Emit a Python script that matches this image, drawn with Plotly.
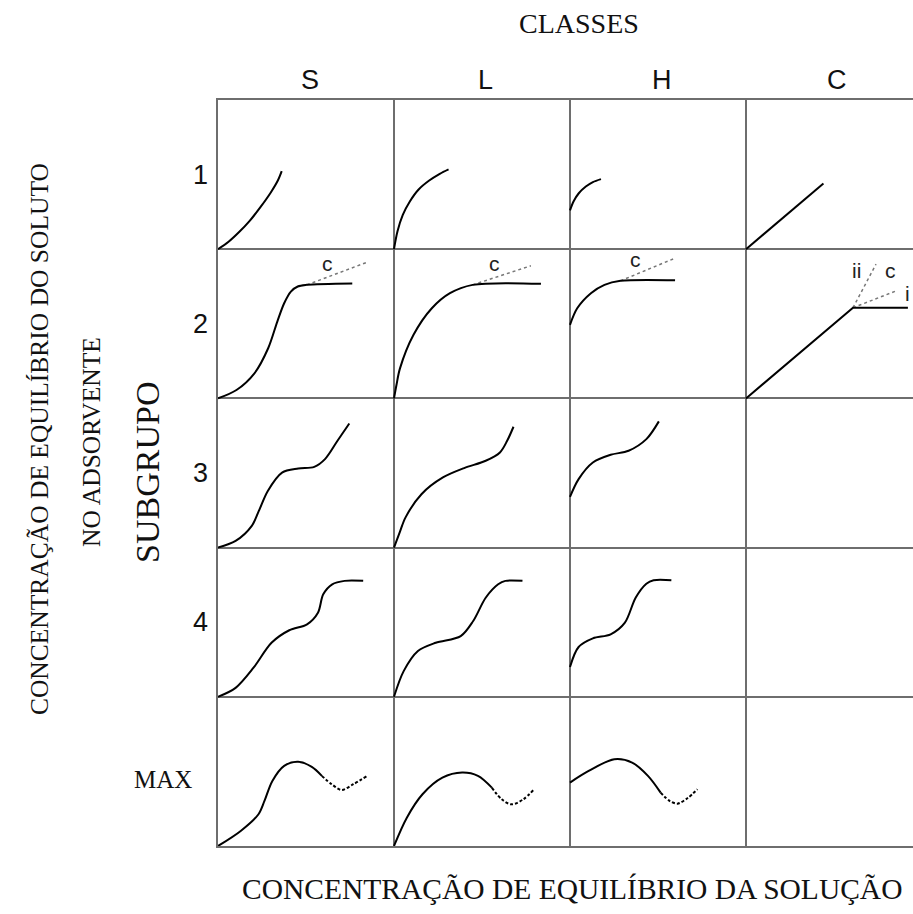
import plotly.graph_objects as go

# Giles classification of adsorption isotherms: classes (columns) x subgroups (rows)
CLASSES = ["S", "L", "H", "C"]
SUBGROUPS = ["1", "2", "3", "4", "MAX"]

# Curve points in cell units: u = solution concentration, v = adsorbed concentration
S1 = [(0, 0), (0.06, 0.05), (0.12, 0.115), (0.18, 0.19), (0.24, 0.28), (0.30, 0.38), (0.34, 0.46), (0.362, 0.523)]
L1 = [(0, 0), (0.02, 0.12), (0.05, 0.23), (0.09, 0.32), (0.14, 0.40), (0.20, 0.46), (0.26, 0.505), (0.31, 0.535)]
H1 = [(0, 0.26), (0.02, 0.32), (0.05, 0.375), (0.09, 0.42), (0.13, 0.45), (0.176, 0.47)]
C1 = [(0, 0), (0.44, 0.44)]

S2 = [(0, 0), (0.105, 0.056), (0.207, 0.168), (0.285, 0.336), (0.337, 0.515), (0.376, 0.638),
      (0.414, 0.716), (0.453, 0.75), (0.505, 0.761), (0.763, 0.77)]
S2_c = [(0.505, 0.761), (0.848, 0.913)]
L2 = [(0, 0), (0.014, 0.09), (0.034, 0.201), (0.111, 0.426), (0.215, 0.604), (0.318, 0.705),
      (0.447, 0.761), (0.835, 0.768)]
L2_c = [(0.447, 0.761), (0.778, 0.889)]
H2 = [(0, 0.493), (0.041, 0.604), (0.119, 0.705), (0.196, 0.761), (0.287, 0.788), (0.597, 0.792)]
H2_c = [(0.287, 0.788), (0.597, 0.94)]
C2 = [(0, 0), (0.608, 0.608), (0.92, 0.608)]
C2_i = [(0.608, 0.608), (0.852, 0.72)]
C2_ii = [(0.608, 0.608), (0.739, 0.9)]

S3 = [(0, 0), (0.1, 0.045), (0.192, 0.146), (0.232, 0.246), (0.283, 0.38), (0.364, 0.503),
      (0.456, 0.53), (0.547, 0.541), (0.608, 0.593), (0.679, 0.716), (0.746, 0.832)]
L3 = [(0, 0), (0.034, 0.107), (0.065, 0.201), (0.156, 0.358), (0.278, 0.47), (0.399, 0.533),
      (0.521, 0.582), (0.602, 0.638), (0.643, 0.716), (0.679, 0.81)]
H3 = [(0, 0.34), (0.049, 0.459), (0.13, 0.57), (0.231, 0.622), (0.333, 0.649), (0.434, 0.727), (0.505, 0.846)]

S4 = [(0, 0), (0.1, 0.06), (0.202, 0.195), (0.304, 0.362), (0.405, 0.446), (0.506, 0.486),
      (0.568, 0.564), (0.598, 0.687), (0.649, 0.754), (0.719, 0.777), (0.825, 0.777)]
L4 = [(0, 0), (0.055, 0.172), (0.136, 0.307), (0.237, 0.362), (0.379, 0.407), (0.45, 0.508),
      (0.521, 0.664), (0.592, 0.754), (0.633, 0.777), (0.73, 0.777)]
H4 = [(0, 0.2), (0.049, 0.334), (0.13, 0.392), (0.231, 0.419), (0.312, 0.497), (0.373, 0.664),
      (0.434, 0.758), (0.475, 0.781), (0.576, 0.781)]

S5 = [(0, 0), (0.129, 0.101), (0.23, 0.213), (0.264, 0.302), (0.309, 0.436), (0.376, 0.537),
      (0.455, 0.564), (0.533, 0.53), (0.59, 0.47)]
S5_tail = [(0.59, 0.47), (0.646, 0.414), (0.702, 0.376), (0.769, 0.414), (0.848, 0.47)]
L5 = [(0, 0), (0.073, 0.19), (0.162, 0.347), (0.275, 0.458), (0.387, 0.492), (0.477, 0.47), (0.556, 0.391)]
L5_tail = [(0.556, 0.391), (0.612, 0.313), (0.668, 0.279), (0.735, 0.313), (0.796, 0.38)]
H5 = [(0, 0.425), (0.106, 0.503), (0.252, 0.581), (0.353, 0.559), (0.443, 0.47), (0.515, 0.358)]
H5_tail = [(0.515, 0.358), (0.566, 0.302), (0.611, 0.284), (0.667, 0.32), (0.724, 0.38)]

# text labels next to the dotted branches: (class, subgroup, text, u, v)
BRANCH_LABELS = [("S", "2", "c", 0.621, 0.906), ("L", "2", "c", 0.569, 0.906),
                 ("H", "2", "c", 0.372, 0.928), ("C", "2", "ii", 0.63, 0.86),
                 ("C", "2", "c", 0.82, 0.86), ("C", "2", "i", 0.915, 0.70)]

SOLID = dict(color="black", width=2)
DOTTED = dict(color="#777777", width=1.5, dash="dot")
DASHED = dict(color="black", width=2, dash="3px,2px")

CURVES = [
    ("S", "1", S1, SOLID), ("L", "1", L1, SOLID), ("H", "1", H1, SOLID), ("C", "1", C1, SOLID),
    ("S", "2", S2_c, DOTTED), ("L", "2", L2_c, DOTTED), ("H", "2", H2_c, DOTTED),
    ("C", "2", C2_i, DOTTED), ("C", "2", C2_ii, DOTTED),
    ("S", "2", S2, SOLID), ("L", "2", L2, SOLID), ("H", "2", H2, SOLID), ("C", "2", C2, SOLID),
    ("S", "3", S3, SOLID), ("L", "3", L3, SOLID), ("H", "3", H3, SOLID),
    ("S", "4", S4, SOLID), ("L", "4", L4, SOLID), ("H", "4", H4, SOLID),
    ("S", "MAX", S5, SOLID), ("L", "MAX", L5, SOLID), ("H", "MAX", H5, SOLID),
    ("S", "MAX", S5_tail, DASHED), ("L", "MAX", L5_tail, DASHED), ("H", "MAX", H5_tail, DASHED),
]

N_ROWS = len(SUBGROUPS)
X_SPAN = 3.949  # visible columns (the last one runs off the right edge)


def cell_origin(cls, sub):
    return CLASSES.index(cls), N_ROWS - 1 - SUBGROUPS.index(sub)


fig = go.Figure()
for cls, sub, pts, style in CURVES:
    x0, y0 = cell_origin(cls, sub)
    shape = "spline" if (style is not DOTTED and cls != "C") else "linear"
    fig.add_trace(go.Scatter(
        x=[x0 + u for u, _ in pts], y=[y0 + v for _, v in pts],
        mode="lines", line=dict(shape=shape, smoothing=0.9, **style),
        hoverinfo="skip", showlegend=False, cliponaxis=False,
    ))

SANS = "Liberation Sans, Arial, sans-serif"
SERIF = "Liberation Serif, Times New Roman, serif"


def label(x, y, text, family, size, angle=0, color="#111"):
    # x, y in grid-cell units, placed on paper so text outside the grid still shows
    return dict(x=x / X_SPAN, y=y / N_ROWS, xref="paper", yref="paper", text=text,
                xanchor="center", yanchor="middle", showarrow=False, textangle=angle,
                font=dict(family=family, size=size, color=color))


ann = []
for cls, sub, text, u, v in BRANCH_LABELS:
    x0, y0 = cell_origin(cls, sub)
    ann.append(label(x0 + u, y0 + v, text, SANS, 21, color="#222"))

# column headers
for i, cls in enumerate(CLASSES):
    ann.append(label(i + 0.52, 5.134, cls, SANS, 27))
# row headers
for j, sub in enumerate(SUBGROUPS):
    base = N_ROWS - 1 - j
    if sub == "MAX":
        ann.append(label(-0.3125, base + 0.449, sub, SERIF, 25))
    else:
        ann.append(label(-0.102, base + 0.5, sub, SANS, 27))

ann += [
    label(2.051, 5.516, "CLASSES", SERIF, 28),
    label(2.009, -0.288, "CONCENTRAÇÃO DE EQUILÍBRIO DA SOLUÇÃO", SERIF, 29.5),
    label(-0.398, 2.507, "SUBGRUPO", SERIF, 34, angle=-90),
    label(-1.011, 2.728, "CONCENTRAÇÃO DE EQUILÍBRIO DO SOLUTO", SERIF, 25.5, angle=-90),
    label(-0.716, 2.708, "NO ADSORVENTE", SERIF, 25.5, angle=-90),
]

GRID = "#6e6e6e"
fig.update_layout(
    width=913, height=914,
    margin=dict(l=218, r=0, t=100, b=68),
    paper_bgcolor="white", plot_bgcolor="white",
    annotations=ann,
    xaxis=dict(range=[0, X_SPAN], showgrid=True, gridcolor=GRID, gridwidth=1.5,
               tick0=0, dtick=1, showticklabels=False, ticks="", zeroline=False,
               showline=True, linecolor=GRID, linewidth=1.5, mirror=True, fixedrange=True),
    yaxis=dict(range=[0, N_ROWS], showgrid=True, gridcolor=GRID, gridwidth=1.5,
               tick0=0, dtick=1, showticklabels=False, ticks="", zeroline=False,
               showline=True, linecolor=GRID, linewidth=1.5, mirror=False, fixedrange=True),
)

fig.write_html("out.html")
